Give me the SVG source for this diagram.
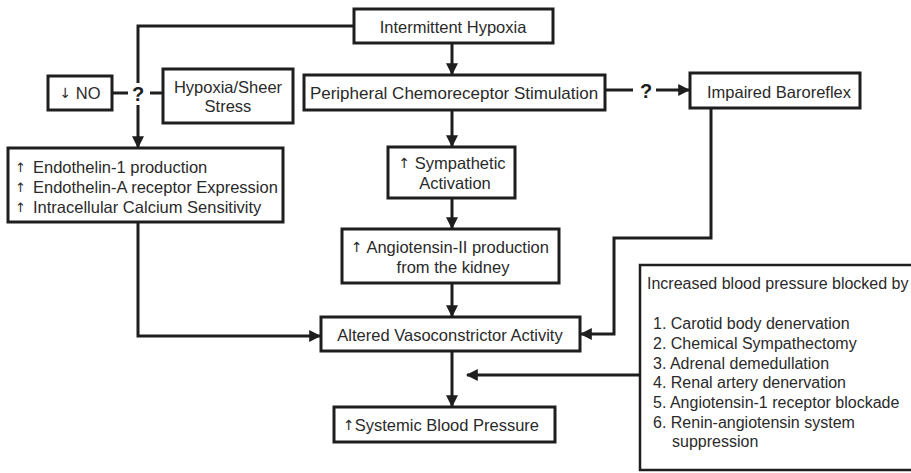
<svg xmlns="http://www.w3.org/2000/svg" width="911" height="473" viewBox="0 0 911 473">
<style>
.box{fill:#fff;stroke:#1e1e1e;stroke-width:3}
.t{font-family:"Liberation Sans",Arial,sans-serif;font-size:16.5px;fill:#2a2a2a;text-anchor:middle;dominant-baseline:central}
.l{text-anchor:start}
.ar{font-family:"DejaVu Sans","Liberation Sans",sans-serif;fill:#2a2a2a}
.q{font-family:"Liberation Sans",Arial,sans-serif;font-size:20px;font-weight:bold;fill:#1e1e1e;text-anchor:middle;dominant-baseline:central}
.c{fill:none;stroke:#1e1e1e;stroke-width:3}
.ca{fill:none;stroke:#1e1e1e;stroke-width:3;marker-end:url(#ah)}
</style>
<defs>
<marker id="ah" viewBox="0 0 10 10" refX="9" refY="5" markerWidth="12" markerHeight="12" markerUnits="userSpaceOnUse" orient="auto">
<path d="M0,0 L10,5 L0,10 z" fill="#1e1e1e"/>
</marker>
</defs>
<rect width="911" height="473" fill="#fff"/>
<g id="connectors">
<path class="ca" d="M452,43 V74"/>
<path class="ca" d="M452,110 V146"/>
<path class="ca" d="M452,198 V228"/>
<path class="ca" d="M452,283 V316"/>
<path class="ca" d="M452,351 V406"/>
<path class="ca" d="M354,26 H138 V147"/>
<path class="c" d="M112,93 H128 M150,93 H163"/>
<rect x="131" y="83" width="14" height="22" fill="#fff"/>
<text class="q" x="138" y="94">?</text>
<path class="ca" d="M138,222 V336 H320"/>
<path class="c" d="M605,90 H633"/>
<text class="q" x="646" y="91">?</text>
<path class="ca" d="M656,90 H689"/>
<path class="ca" d="M711,108 V238 H614 V334 H581"/>
<path class="ca" d="M640,375 H467"/>
</g>
<g id="intermittent">
<rect class="box" x="354" y="9" width="199" height="34"/>
<text class="t" x="453" y="27">Intermittent Hypoxia</text>
</g>
<g id="no">
<rect class="box" x="48" y="76" width="64" height="34"/>
<text class="t" x="80" y="93"><tspan class="ar" style="font-size:14px">↓</tspan> NO</text>
</g>
<g id="hypoxia">
<rect class="box" x="163" y="69" width="130" height="54"/>
<text class="t" x="228" y="87">Hypoxia/Sheer</text>
<text class="t" x="228" y="106">Stress</text>
</g>
<g id="peripheral">
<rect class="box" x="304" y="75" width="301" height="35"/>
<text class="t" x="454" y="93" style="font-size:17px">Peripheral Chemoreceptor Stimulation</text>
</g>
<g id="impaired">
<rect class="box" x="690" y="73" width="170" height="35"/>
<text class="t" x="779" y="92">Impaired Baroreflex</text>
</g>
<g id="endothelin">
<rect class="box" x="8" y="148" width="275" height="74"/>
<text class="t l ar" x="15" y="167" style="font-size:13px">↑</text>
<text class="t l" x="33" y="167">Endothelin-1 production</text>
<text class="t l ar" x="15" y="187" style="font-size:13px">↑</text>
<text class="t l" x="33" y="187">Endothelin-A receptor Expression</text>
<text class="t l ar" x="15" y="207" style="font-size:13px">↑</text>
<text class="t l" x="33" y="207">Intracellular Calcium Sensitivity</text>
</g>
<g id="sympathetic">
<rect class="box" x="388" y="147" width="127" height="51"/>
<text class="t" x="452" y="163"><tspan class="ar" style="font-size:14px">↑</tspan> Sympathetic</text>
<text class="t" x="455" y="183">Activation</text>
</g>
<g id="angiotensin">
<rect class="box" x="342" y="229" width="217" height="54"/>
<text class="t" x="450" y="247"><tspan class="ar" style="font-size:14px">↑</tspan> Angiotensin-II production</text>
<text class="t" x="453" y="267">from the kidney</text>
</g>
<g id="altered">
<rect class="box" x="321" y="317" width="259" height="34"/>
<text class="t" x="450" y="335">Altered Vasoconstrictor Activity</text>
</g>
<g id="systemic">
<rect class="box" x="334" y="407" width="221" height="35"/>
<text class="t" x="441" y="425"><tspan class="ar" style="font-size:14px">↑</tspan>Systemic Blood Pressure</text>
</g>
<g id="blocked">
<rect class="box" x="640" y="265" width="290" height="205" style="stroke-width:2.5"/>
<text class="t l" x="647" y="283" style="font-size:16px">Increased blood pressure blocked by</text>
<text class="t l" x="653" y="323" style="font-size:16px">1. Carotid body denervation</text>
<text class="t l" x="653" y="343" style="font-size:16px">2. Chemical Sympathectomy</text>
<text class="t l" x="653" y="363" style="font-size:16px">3. Adrenal demedullation</text>
<text class="t l" x="653" y="382" style="font-size:16px">4. Renal artery denervation</text>
<text class="t l" x="653" y="402" style="font-size:16px">5. Angiotensin-1 receptor blockade</text>
<text class="t l" x="653" y="422" style="font-size:16px">6. Renin-angiotensin system</text>
<text class="t l" x="672" y="441" style="font-size:16px">suppression</text>
</g>
</svg>
